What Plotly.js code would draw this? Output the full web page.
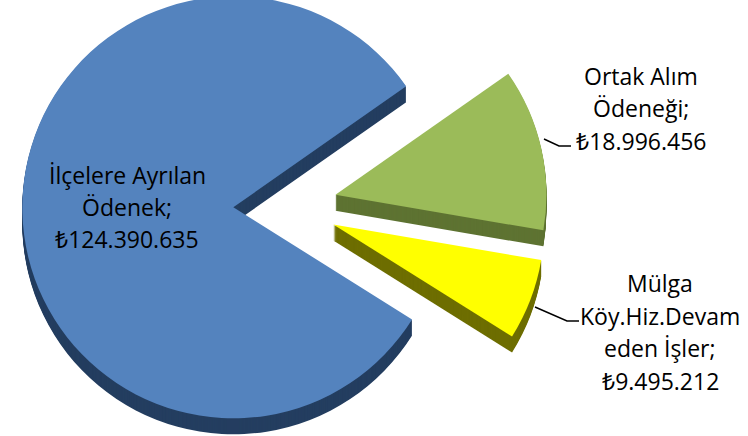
<!DOCTYPE html>
<html>
<head>
<meta charset="utf-8">
<script src="https://cdn.plot.ly/plotly-3.0.1.min.js"></script>
<style>
  html, body { margin: 0; padding: 0; background: #ffffff; }
  #wrap { width: 748px; height: 436px; overflow: hidden; position: relative; }
  #chart { position: absolute; left: 0; top: -61px; }
</style>
</head>
<body>
<div id="wrap"><div id="chart"></div></div>
<script>
// ---- data ----
var categories = ["Ortak Alım Ödeneği", "Mülga Köy.Hiz.Devam eden İşler", "İlçelere Ayrılan Ödenek"];
var values = [18996456, 9495212, 124390635];
var labelLines = [
  ["Ortak Alım", "Ödeneği;"],
  ["Mülga", "Köy.Hiz.Devam", "eden İşler;"],
  ["İlçelere Ayrılan", "Ödenek;"]
];
var topColors = ["#9BBB59", "#FFFF00", "#5483BE"];
var sideColors = ["#5E7332", "#6E6E00", "#243E60"];

// ---- layout helpers ----
var W = 748, H = 570, OFF = 61;
var CX = 285, CY = 206, R = 211, PULL = 0.245;
var HALF = R * (1 + PULL);
function px(x) { return x / W; }
function py(y) { return 1 - (y + OFF) / H; }

function fmt(v) { return "₺" + String(v).replace(/\B(?=(\d{3})+(?!\d))/g, "."); }

function pieTrace(dy, colors) {
  return {
    type: "pie",
    values: values,
    labels: categories,
    sort: false,
    direction: "clockwise",
    rotation: 55,
    pull: values.map(function () { return PULL; }),
    textinfo: "none",
    hoverinfo: "label+value",
    showlegend: false,
    marker: { colors: colors, line: { width: 0 } },
    domain: {
      x: [px(CX - HALF), px(CX + HALF)],
      y: [py(CY + HALF + dy), py(CY - HALF + dy)]
    }
  };
}

var traces = [];
for (var d = 16; d >= 1; d--) { traces.push(pieTrace(d, sideColors)); }
traces.push(pieTrace(0, topColors));

// label blocks: [centerX, first line center Y, line spacing]
var labelPos = [
  [641, 76, 32.5],
  [660, 283, 32.7],
  [127, 175, 32]
];
var annotations = [];
categories.forEach(function (c, i) {
  var lines = labelLines[i].concat([fmt(values[i])]);
  lines.forEach(function (t, k) {
    annotations.push({
      xref: "paper", yref: "paper",
      x: px(labelPos[i][0]), y: py(labelPos[i][1] + k * labelPos[i][2]),
      xanchor: "center", yanchor: "middle",
      text: t, showarrow: false,
      font: { family: "Open Sans, Noto Sans, sans-serif", size: 23, color: "#000000" }
    });
  });
});

function seg(pts) {
  return pts.map(function (p, i) { return (i ? "L" : "M") + px(p[0]) + "," + py(p[1]); }).join(" ");
}
var shapes = [
  { type: "path", xref: "paper", yref: "paper", path: seg([[544, 139], [559, 146], [571, 146]]), line: { color: "#000000", width: 1.5 } },
  { type: "path", xref: "paper", yref: "paper", path: seg([[535, 307], [567, 321], [579, 321]]), line: { color: "#000000", width: 1.5 } }
];

var layout = {
  width: W, height: H,
  margin: { l: 0, r: 0, t: 0, b: 0 },
  paper_bgcolor: "#ffffff",
  plot_bgcolor: "#ffffff",
  annotations: annotations,
  shapes: shapes,
  showlegend: false
};

Plotly.newPlot("chart", traces, layout, { displayModeBar: false, staticPlot: true });
</script>
</body>
</html>
